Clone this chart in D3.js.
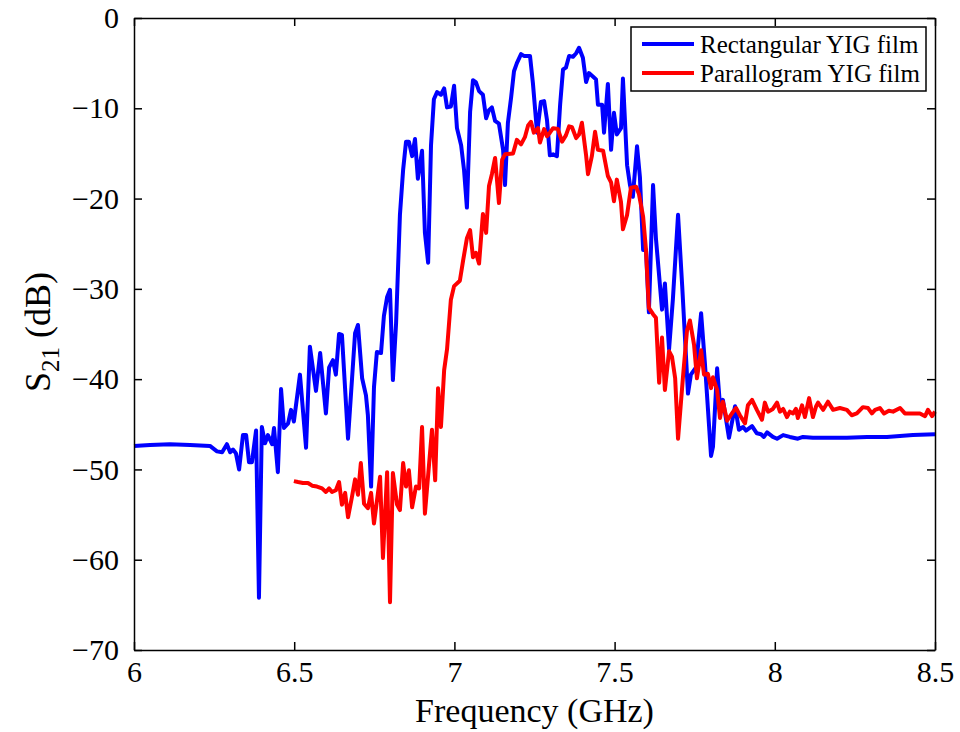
<!DOCTYPE html>
<html>
<head>
<meta charset="utf-8">
<script src="https://cdn.jsdelivr.net/npm/d3@7"></script>
<style>
  body { margin: 0; background: #fff; }
  svg text { font-family: "Liberation Serif", "Times New Roman", serif; fill: #000; }
</style>
</head>
<body>
<svg id="chart" width="960" height="732"></svg>
<script>
"use strict";

// values
const seriesNames = ["Rectangular YIG film", "Parallogram YIG film"];
const xTicks = [6, 6.5, 7, 7.5, 8, 8.5];
const yTicks = [0, -10, -20, -30, -40, -50, -60, -70];

const blueFreq = [6.000,6.050,6.112,6.175,6.237,6.259,6.275,6.290,6.300,6.309,6.318,6.328,6.340,6.350,6.359,6.368,6.381,6.390,6.399,6.409,
  6.418,6.431,6.437,6.449,6.459,6.468,6.481,6.490,6.499,6.518,6.537,6.549,6.568,6.581,6.599,6.609,6.621,6.630,6.640,6.649,
  6.668,6.690,6.699,6.712,6.724,6.730,6.740,6.749,6.758,6.771,6.780,6.790,6.799,6.808,6.818,6.830,6.840,6.849,6.858,6.868,
  6.877,6.886,6.899,6.908,6.918,6.927,6.936,6.946,6.958,6.968,6.977,6.989,6.999,7.008,7.021,7.030,7.039,7.049,7.058,7.067,
  7.077,7.089,7.099,7.108,7.117,7.127,7.139,7.152,7.158,7.167,7.177,7.186,7.195,7.208,7.217,7.236,7.245,7.258,7.270,7.280,
  7.289,7.298,7.308,7.320,7.330,7.339,7.348,7.358,7.370,7.380,7.389,7.401,7.411,7.420,7.433,7.442,7.448,7.461,7.467,7.479,
  7.489,7.498,7.507,7.520,7.526,7.539,7.548,7.557,7.570,7.579,7.589,7.598,7.607,7.620,7.629,7.648,7.657,7.670,7.682,7.698,
  7.711,7.729,7.738,7.754,7.770,7.782,7.801,7.807,7.820,7.829,7.838,7.848,7.857,7.876,7.888,7.901,7.910,7.929,7.944,7.957,
  7.966,7.976,7.994,8.007,8.026,8.047,8.072,8.088,8.119,8.172,8.225,8.288,8.350,8.431,8.500];
const blueDb = [-47.4,-47.3,-47.2,-47.3,-47.4,-48.0,-48.1,-47.2,-48.1,-47.8,-48.2,-50.0,-46.2,-46.2,-49.2,-49.2,-45.7,-64.2,-45.3,-47.1,
  -46.2,-47.2,-45.4,-50.3,-41.1,-45.4,-44.9,-43.4,-44.7,-39.5,-47.6,-36.4,-41.3,-37.1,-43.8,-38.7,-37.9,-39.5,-35.0,-35.1,
  -46.6,-34.9,-34.0,-39.9,-41.8,-44.0,-51.9,-40.9,-37.0,-37.1,-33.0,-30.9,-30.1,-40.1,-33.8,-21.8,-16.8,-13.7,-13.7,-15.3,
  -13.4,-17.8,-14.7,-23.8,-27.1,-14.1,-9.0,-8.2,-8.5,-7.8,-9.9,-9.8,-7.5,-12.2,-14.1,-16.8,-21.0,-10.4,-6.9,-7.1,
  -8.1,-8.5,-11.1,-10.2,-9.9,-11.4,-11.7,-14.6,-18.5,-11.6,-8.8,-5.9,-5.0,-4.0,-4.2,-4.2,-7.2,-12.7,-9.3,-9.2,
  -11.3,-15.2,-15.1,-15.3,-9.6,-5.7,-5.5,-4.2,-4.3,-3.9,-3.3,-4.4,-7.1,-6.1,-6.5,-6.8,-9.6,-9.6,-12.7,-7.3,
  -14.6,-10.5,-12.9,-12.2,-6.7,-16.3,-18.5,-19.8,-14.2,-17.6,-25.7,-25.7,-32.6,-18.5,-24.4,-32.3,-29.4,-36.7,-31.1,-21.8,
  -29.7,-41.6,-39.5,-38.7,-32.7,-38.3,-48.5,-47.5,-38.8,-42.9,-42.3,-44.5,-46.5,-43.0,-45.6,-45.3,-45.7,-45.2,-46.0,-46.1,
  -46.4,-45.9,-46.4,-46.6,-46.2,-46.4,-46.6,-46.4,-46.5,-46.5,-46.5,-46.4,-46.4,-46.2,-46.1];

const redFreq = [6.499,6.512,6.527,6.543,6.556,6.571,6.587,6.599,6.609,6.618,6.630,6.640,6.649,6.659,6.668,6.680,6.690,6.699,6.708,6.718,
  6.730,6.740,6.749,6.768,6.777,6.790,6.799,6.808,6.821,6.830,6.840,6.849,6.858,6.868,6.880,6.890,6.899,6.908,6.930,6.940,
  6.949,6.958,6.968,6.977,6.989,6.999,7.017,7.027,7.039,7.049,7.058,7.067,7.077,7.089,7.099,7.108,7.117,7.127,7.139,7.149,
  7.158,7.183,7.195,7.208,7.220,7.230,7.239,7.248,7.261,7.267,7.280,7.289,7.298,7.308,7.323,7.336,7.348,7.358,7.367,7.380,
  7.389,7.398,7.411,7.417,7.429,7.439,7.448,7.464,7.479,7.489,7.498,7.507,7.520,7.526,7.539,7.551,7.567,7.576,7.589,7.598,
  7.607,7.620,7.629,7.639,7.648,7.657,7.670,7.679,7.689,7.698,7.714,7.726,7.735,7.748,7.757,7.770,7.779,7.791,7.801,7.807,
  7.820,7.829,7.838,7.851,7.870,7.879,7.891,7.907,7.916,7.929,7.944,7.960,7.969,7.979,7.994,8.007,8.016,8.026,8.038,8.047,
  8.057,8.066,8.072,8.085,8.094,8.107,8.119,8.129,8.135,8.151,8.166,8.182,8.203,8.225,8.240,8.256,8.275,8.291,8.303,8.313,
  8.328,8.341,8.356,8.369,8.391,8.406,8.422,8.438,8.453,8.469,8.478,8.491,8.500];
const redDb = [-51.3,-51.4,-51.5,-51.5,-51.8,-51.9,-52.1,-52.5,-52.1,-52.5,-52.3,-51.4,-53.9,-52.6,-55.3,-53.1,-51.1,-52.8,-49.3,-53.8,
  -54.3,-52.6,-56.0,-50.8,-59.8,-50.3,-64.7,-50.4,-53.9,-54.5,-49.3,-51.9,-50.1,-54.2,-51.9,-52.1,-45.3,-54.9,-45.6,-51.2,
  -41.0,-45.3,-39.0,-36.7,-31.2,-29.7,-29.1,-26.9,-24.4,-23.5,-26.5,-26.0,-27.2,-21.7,-23.8,-18.6,-17.3,-15.5,-20.5,-15.7,
  -15.1,-15.0,-13.5,-14.0,-13.2,-11.9,-11.5,-12.7,-12.2,-13.8,-12.3,-13.1,-12.7,-12.2,-12.3,-13.7,-13.0,-12.0,-12.1,-13.3,
  -12.9,-11.6,-15.2,-17.3,-15.3,-12.6,-14.6,-14.7,-17.5,-18.2,-20.3,-17.9,-20.4,-23.4,-21.8,-18.8,-18.7,-19.5,-22.0,-25.7,
  -32.1,-32.8,-33.2,-40.4,-35.4,-41.2,-36.9,-37.5,-39.9,-46.6,-39.5,-34.6,-33.5,-36.2,-39.9,-36.8,-39.5,-39.4,-41.0,-39.8,
  -41.2,-44.3,-42.5,-44.6,-43.6,-43.2,-44.0,-44.9,-42.9,-42.3,-43.4,-44.5,-42.6,-43.6,-43.3,-42.6,-43.6,-43.3,-44.2,-43.6,
  -43.8,-43.3,-44.3,-42.9,-44.2,-42.1,-44.2,-43.0,-42.6,-43.4,-42.5,-43.4,-43.2,-43.4,-44.0,-43.8,-43.1,-43.2,-43.8,-43.4,
  -43.2,-43.8,-43.5,-43.6,-43.2,-43.8,-43.8,-43.8,-43.8,-44.1,-43.4,-44.1,-43.6];

const colors = ["#0000ff", "#ff0000"];

let margin = {top: 18, right: 25, bottom: 82, left: 134},
  svg = d3.select("#chart"),
  width = 960 - margin.left - margin.right,
  height = 732 - margin.top - margin.bottom,
  g = svg.append("g").attr("transform", "translate(" + margin.left + "," + margin.top + ")"),
  x = d3.scaleLinear().domain([6, 8.5]).range([0, width]),
  y = d3.scaleLinear().domain([-70, 0]).range([height, 0])
;

let series = [
  {name: seriesNames[0], color: colors[0], values: blueFreq.map(function(f, i) { return [f, blueDb[i]]; })},
  {name: seriesNames[1], color: colors[1], values: redFreq.map(function(f, i) { return [f, redDb[i]]; })}
];

let line = d3.line()
  .x(function(d) { return x(d[0]); })
  .y(function(d) { return y(d[1]); });

g.selectAll(".series")
  .data(series)
  .enter().append("path")
    .attr("class", "series")
    .attr("fill", "none")
    .attr("stroke", function(d) { return d.color; })
    .attr("stroke-width", 4)
    .attr("stroke-linejoin", "round")
    .attr("d", function(d) { return line(d.values); });

// axes, matlab style: ticks inside on all four sides
g.append("g")
  .attr("class", "axis")
  .attr("transform", "translate(0," + height + ")")
  .call(d3.axisBottom(x).tickValues(xTicks).tickSizeInner(-8).tickSizeOuter(0).tickPadding(11).tickFormat(d3.format("~g")));

g.append("g")
  .attr("class", "axis")
  .call(d3.axisLeft(y).tickValues(yTicks).tickSizeInner(-8).tickSizeOuter(0).tickPadding(15));

g.append("g")
  .attr("class", "axis")
  .call(d3.axisTop(x).tickValues(xTicks).tickSizeInner(-8).tickSizeOuter(0).tickFormat(""));

g.append("g")
  .attr("class", "axis")
  .attr("transform", "translate(" + width + ",0)")
  .call(d3.axisRight(y).tickValues(yTicks).tickSizeInner(-8).tickSizeOuter(0).tickFormat(""));

g.selectAll(".axis path, .axis line").attr("stroke", "#000").attr("stroke-width", 1.5);
g.selectAll(".axis text").attr("font-size", 30).attr("font-family", "Liberation Serif, Times New Roman, serif").attr("fill", "#000");

// axis labels
svg.append("text")
  .attr("x", margin.left + width / 2)
  .attr("y", 722)
  .attr("text-anchor", "middle")
  .attr("font-size", 34)
  .text("Frequency (GHz)");

let ylab = svg.append("text")
  .attr("transform", "translate(50,332) rotate(-90)")
  .attr("text-anchor", "middle")
  .attr("font-size", 36);
ylab.append("tspan").text("S");
ylab.append("tspan").attr("font-size", 25).attr("dy", 9).text("21");
ylab.append("tspan").attr("dy", -9).text(" (dB)");

// legend
let legend = svg.append("g").attr("transform", "translate(631,27)");
legend.append("rect")
  .attr("width", 295)
  .attr("height", 64)
  .attr("fill", "#fff")
  .attr("stroke", "#000")
  .attr("stroke-width", 1.5);

let item = legend.selectAll(".item")
  .data(series)
  .enter().append("g")
    .attr("class", "item")
    .attr("transform", function(d, i) { return "translate(0," + (17 + i * 29) + ")"; });

item.append("line")
  .attr("x1", 11).attr("x2", 63)
  .attr("stroke", function(d) { return d.color; })
  .attr("stroke-width", 4);

item.append("text")
  .attr("x", 69)
  .attr("dy", "0.35em")
  .attr("font-size", 25)
  .text(function(d) { return d.name; });
</script>
</body>
</html>
